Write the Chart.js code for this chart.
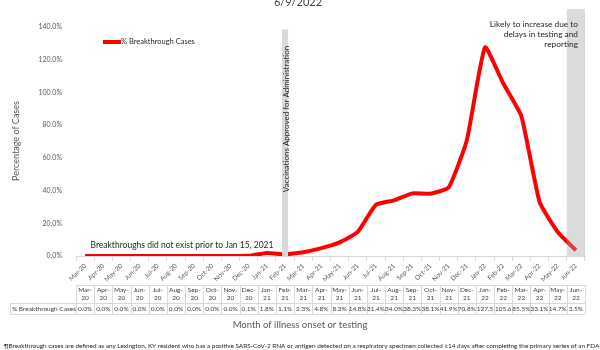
<!DOCTYPE html>
<html>
<head>
<meta charset="utf-8">
<script src="https://cdn.jsdelivr.net/npm/chart.js@4.4.0/dist/chart.umd.min.js"></script>
<style>
  html, body { margin: 0; padding: 0; background: #fff; }
  #wrap { width: 600px; height: 350px; position: relative; }
</style>
</head>
<body>
<div id="wrap"><canvas id="breakthroughChart" width="600" height="350"></canvas></div>
<script>
const months = ['Mar-20', 'Apr-20', 'May-20', 'Jun-20', 'Jul-20', 'Aug-20', 'Sep-20', 'Oct-20', 'Nov-20', 'Dec-20',
                'Jan-21', 'Feb-21', 'Mar-21', 'Apr-21', 'May-21', 'Jun-21', 'Jul-21', 'Aug-21', 'Sep-21', 'Oct-21',
                'Nov-21', 'Dec-21', 'Jan-22', 'Feb-22', 'Mar-22', 'Apr-22', 'May-22', 'Jun-22'];
const breakthroughPct = [0.0, 0.0, 0.0, 0.0, 0.0, 0.0, 0.0, 0.0, 0.0, 0.1,
                         1.8, 1.1, 2.3, 4.8, 8.3, 14.8, 31.4, 34.0, 38.3, 38.1,
                         41.9, 70.8, 127.5, 105.6, 85.5, 33.1, 14.7, 3.5];
const seriesLabel = '% Breakthrough Cases';
const yTicks = [0, 20, 40, 60, 80, 100, 120, 140];
const vaccineMonth = 'Feb-21';
const delayMonth = 'Jun-22';

const FONT = 'Lato, "Open Sans", sans-serif';
const grey = '#595959';

// extra text, bands and the data table under the axis
const extras = {
  id: 'extras',
  afterDatasetsDraw(chart) {
    const ctx = chart.ctx;
    const x = chart.scales.x, y = chart.scales.y;
    const colW = x.getPixelForValue(1) - x.getPixelForValue(0);
    const base = y.getPixelForValue(0);

    // bands
    ctx.save();
    const vx = x.getPixelForValue(months.indexOf(vaccineMonth));
    ctx.fillStyle = '#d9d9d9';
    ctx.fillRect(vx - 3, y.getPixelForValue(138.5), 6, base - y.getPixelForValue(138.5));
    const dx = x.getPixelForValue(months.indexOf(delayMonth));
    ctx.fillStyle = 'rgba(160,160,160,0.38)';
    ctx.fillRect(dx - colW / 2, 9, colW, base - 9);
    ctx.restore();

    ctx.save();
    ctx.fillStyle = '#262626';
    ctx.font = '8px ' + FONT;
    ctx.textBaseline = 'middle';
    // vertical label on vaccine band
    ctx.save();
    ctx.translate(vx + 1, 119);
    ctx.rotate(-Math.PI / 2);
    ctx.textAlign = 'center';
    ctx.fillText('Vaccinations Approved for Administration', 0, 0);
    ctx.restore();
    // delay note
    ctx.textAlign = 'right';
    ctx.font = '8.3px ' + FONT;
    ctx.fillText('Likely to increase due to', 578, 24);
    ctx.fillText('delays in testing and', 578, 34);
    ctx.fillText('reporting', 578, 44);
    // pre-vaccine note
    ctx.textAlign = 'center';
    ctx.font = '8.5px ' + FONT;
    ctx.fillText('Breakthroughs did not exist prior to Jan 15, 2021', 182, 245);
    // title (cut at top)
    ctx.font = '11px ' + FONT;
    ctx.fillStyle = '#404040';
    ctx.fillText('6/9/2022', 298, 2);
    // legend
    ctx.strokeStyle = '#ff0000';
    ctx.lineWidth = 4;
    ctx.beginPath(); ctx.moveTo(103, 42); ctx.lineTo(121, 42); ctx.stroke();
    ctx.font = '7.5px ' + FONT;
    ctx.textAlign = 'left';
    ctx.fillStyle = '#262626';
    ctx.fillText(seriesLabel, 121, 42);
    // y title
    ctx.save();
    ctx.translate(16, 141);
    ctx.rotate(-Math.PI / 2);
    ctx.textAlign = 'center';
    ctx.font = '9px ' + FONT;
    ctx.fillStyle = grey;
    ctx.fillText('Percentage of Cases', 0, 0);
    ctx.restore();

    // data table
    const top = 285, mid = 303, bot = 314;
    const left = x.getPixelForValue(0) - colW / 2;
    const right = x.getPixelForValue(months.length - 1) + colW / 2;
    ctx.strokeStyle = '#d9d9d9';
    ctx.lineWidth = 1;
    ctx.beginPath();
    ctx.moveTo(left, top + 0.5); ctx.lineTo(right, top + 0.5);
    ctx.moveTo(10, mid + 0.5); ctx.lineTo(right, mid + 0.5);
    ctx.moveTo(10, bot + 0.5); ctx.lineTo(right, bot + 0.5);
    ctx.moveTo(10.5, mid); ctx.lineTo(10.5, bot);
    for (let i = 0; i <= months.length; i++) {
      const cx = Math.round(left + i * colW) + 0.5;
      ctx.moveTo(cx, top); ctx.lineTo(cx, bot);
    }
    ctx.stroke();
    ctx.fillStyle = '#404040';
    ctx.font = '6.5px ' + FONT;
    ctx.textAlign = 'center';
    months.forEach((m, i) => {
      const cx = x.getPixelForValue(i);
      const parts = m.split('-');
      ctx.fillText(parts[0] + '-', cx, 290);
      ctx.fillText(parts[1], cx, 298);
      const v = breakthroughPct[i];
      ctx.fillText(v >= 100 ? v.toFixed(1) : v.toFixed(1) + '%', cx, 308.5);
    });
    ctx.textAlign = 'left';
    ctx.fillText(seriesLabel, 12, 308.5);

    // axis title + footnote
    ctx.textAlign = 'center';
    ctx.font = '9.5px ' + FONT;
    ctx.fillStyle = grey;
    ctx.fillText('Month of illness onset or testing', 300, 325);
    ctx.textAlign = 'left';
    ctx.font = '6.4px ' + FONT;
    ctx.fillStyle = '#262626';
    ctx.fillText('\u00B6Breakthrough cases are defined as any Lexington, KY resident who has a positive SARS-CoV-2 RNA or antigen detected on a respiratory specimen collected \u226514 days after completing the primary series of an FDA-', 4, 346);
    ctx.restore();
  }
};

new Chart('breakthroughChart', {
  type: 'line',
  data: {
    labels: months,
    datasets: [{
      label: seriesLabel,
      data: breakthroughPct,
      borderColor: '#ff0000',
      borderWidth: 4,
      pointRadius: 0,
      tension: 0.15,
      fill: false
    }]
  },
  options: {
    responsive: false,
    animation: false,
    layout: { padding: { top: 27, right: 15, left: 0, bottom: 0 } },
    plugins: { legend: { display: false }, tooltip: { enabled: false } },
    scales: {
      x: {
        offset: true,
        afterFit: (s) => { s.height = 94; },
        grid: { display: true, drawOnChartArea: false, offset: true, tickLength: 5, color: '#d9d9d9' },
        border: { color: '#d9d9d9' },
        ticks: { color: grey, font: { family: FONT, size: 6.5 }, minRotation: 45, maxRotation: 45, autoSkip: false, padding: 1 }
      },
      y: {
        min: 0, max: 140,
        afterFit: (s) => { s.width = 76; },
        afterBuildTicks: (s) => { s.ticks = yTicks.map(v => ({ value: v })); },
        grid: { display: false },
        border: { display: false },
        ticks: { color: grey, font: { family: FONT, size: 7 }, padding: 6, callback: (v) => v.toFixed(1) + '%' }
      }
    }
  },
  plugins: [extras]
});
</script>
</body>
</html>
